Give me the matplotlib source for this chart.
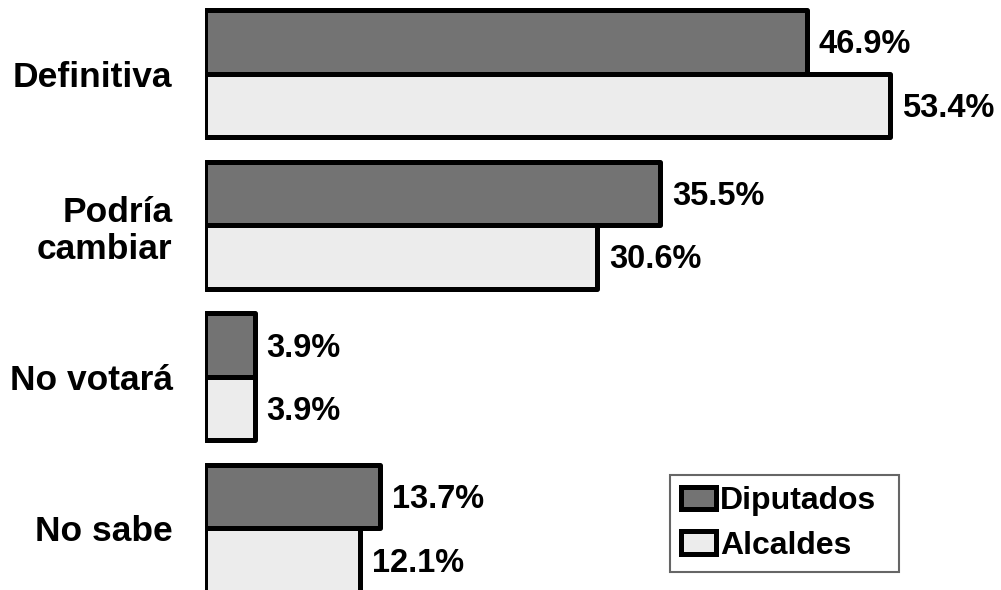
import numpy as np
import matplotlib.pyplot as plt

plt.rcParams['font.family'] = ['Liberation Sans', 'DejaVu Sans']
plt.rcParams['font.weight'] = 'bold'

categories = ["Definitiva", "Podría\ncambiar", "No votará", "No sabe"]
diputados = [46.9, 35.5, 3.9, 13.7]
alcaldes = [53.4, 30.6, 3.9, 12.1]
series_names = ["Diputados", "Alcaldes"]

dark = "#737373"
light = "#ececec"

fig = plt.figure(figsize=(10.01, 5.9), dpi=100)
ax = fig.add_axes([204.5 / 1001, 0, 1 - 204.5 / 1001, 1])

y = np.arange(len(categories))
h = 0.419
kw = dict(height=h, edgecolor="black", linewidth=3.6, joinstyle="round")
b1 = ax.barh(y - h / 2, diputados, color=dark, label=series_names[0], **kw)
b2 = ax.barh(y + h / 2, alcaldes, color=light, label=series_names[1], **kw)

for bars, vals in ((b1, diputados), (b2, alcaldes)):
    for bar, v in zip(bars, vals):
        ax.annotate(f"{v}%", (v, bar.get_y() + bar.get_height() / 2),
                    xytext=(8.5, -2), textcoords="offset points",
                    ha="left", va="center", fontsize=23.5, fontweight="bold")

ax.set_xlim(0, 796.5 / 12.84)
ax.set_ylim(3.406, -0.488)
ax.set_yticks(y, labels=categories)
ax.tick_params(axis="y", length=0, pad=23, labelsize=25.5)
for lab in ax.get_yticklabels():
    lab.set_linespacing(1.15)
ax.set_xticks([])
for s in ax.spines.values():
    s.set_visible(False)

leg = fig.legend(handles=[b1, b2], loc="upper left",
                 bbox_to_anchor=(670 / 1001, 21 / 590, 229 / 1001, 94 / 590),
                 mode="expand", borderaxespad=0,
                 fontsize=23, frameon=True, fancybox=False,
                 handlelength=1.1, handleheight=0.72, handletextpad=0.12,
                 labelspacing=0.45, borderpad=0.35)
leg.get_frame().set_edgecolor("#404040")
leg.get_frame().set_linewidth(1.5)

fig.savefig("out.png", dpi=100)
